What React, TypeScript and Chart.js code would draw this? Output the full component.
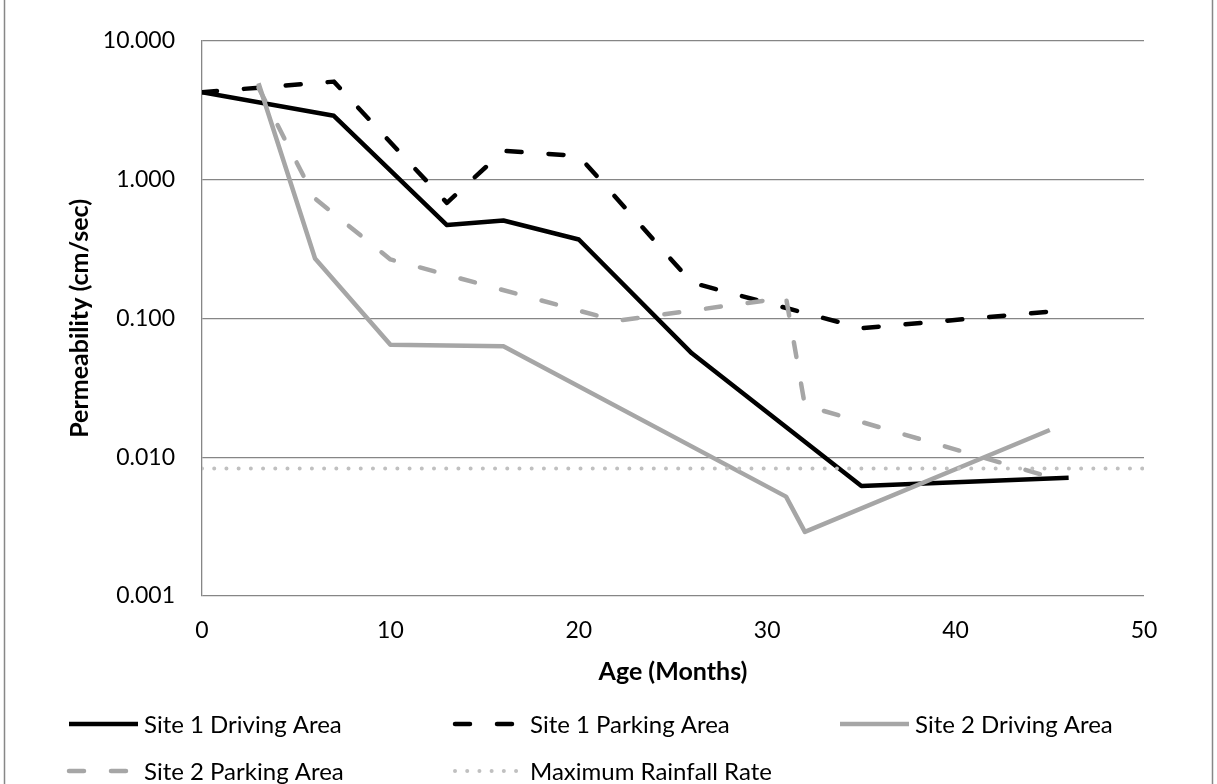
import React, { useEffect, useRef } from "react";
import { Chart, registerables } from "chart.js";

Chart.register(...registerables);

// ---- data ----
const site1DrivingMonths = [0, 7, 13, 16, 20, 26, 35, 46];
const site1DrivingValues = [4.26, 2.88, 0.47, 0.507, 0.37, 0.056, 0.0062, 0.0071];

const site1ParkingMonths = [0, 7, 13, 16, 20, 26, 35, 46];
const site1ParkingValues = [4.26, 5.08, 0.68, 1.61, 1.48, 0.181, 0.085, 0.115];

const site2DrivingMonths = [3, 6, 10, 16, 31, 32, 45];
const site2DrivingValues = [4.94, 0.27, 0.0645, 0.063, 0.0052, 0.0029, 0.0157];

const site2ParkingMonths = [3, 6, 10, 22, 31, 32, 45];
const site2ParkingValues = [4.6, 0.73, 0.266, 0.096, 0.141, 0.0236, 0.0072];

const rainfallMonths = [0, 50];
const rainfallValues = [0.0083, 0.0083];

const seriesNames = [
  "Site 1 Driving Area",
  "Site 1 Parking Area",
  "Site 2 Driving Area",
  "Site 2 Parking Area",
  "Maximum Rainfall Rate",
];

const xTickValues = [0, 10, 20, 30, 40, 50];
const yTickValues = [0.001, 0.01, 0.1, 1, 10];
const xTitle = "Age (Months)";
const yTitle = "Permeability (cm/sec)";

const FONT = "Lato";
const TICK_SIZE = 23;
const TITLE_SIZE = 25;
const LEGEND_SIZE = 24;

const toPoints = (xs: number[], ys: number[]) => xs.map((x, i) => ({ x, y: ys[i] }));

const legendPlugin = {
  id: "excelLegend",
  afterDraw(chart: any) {
    const ctx = chart.ctx;
    const cols = [69, 455, 840];
    const rows = [724, 771];
    chart.data.datasets.forEach((ds: any, i: number) => {
      const x = cols[i % 3];
      const y = rows[Math.floor(i / 3)];
      ctx.save();
      ctx.strokeStyle = ds.borderColor;
      ctx.lineWidth = ds.borderWidth;
      ctx.lineCap = ds.borderCapStyle || "butt";
      ctx.setLineDash(ds.borderDash || []);
      ctx.beginPath();
      ctx.moveTo(x, y);
      ctx.lineTo(x + (ds.borderDash && ds.borderDash[0] < 1 ? 62 : 69), y);
      ctx.stroke();
      ctx.setLineDash([]);
      ctx.fillStyle = "#000";
      ctx.font = `${LEGEND_SIZE}px ${FONT}`;
      ctx.textBaseline = "middle";
      ctx.textAlign = "left";
      ctx.fillText(ds.label, x + 75, y + 1);
      ctx.restore();
    });
  },
};

const framePlugin = {
  id: "frame",
  beforeDraw(chart: any) {
    const ctx = chart.ctx;
    ctx.save();
    ctx.fillStyle = "#fff";
    ctx.fillRect(0, 0, chart.width, chart.height);
    ctx.strokeStyle = "#878787";
    ctx.lineWidth = 1.5;
    ctx.beginPath();
    ctx.moveTo(4.5, 0);
    ctx.lineTo(4.5, chart.height);
    ctx.moveTo(1212.5, 0);
    ctx.lineTo(1212.5, chart.height);
    ctx.stroke();
    ctx.restore();
  },
};

export default function App() {
  const ref = useRef<HTMLCanvasElement | null>(null);

  useEffect(() => {
    if (!ref.current) return;
    const black = "#000000";
    const gray = "#A6A6A6";
    const dash = [15, 27];
    const chart = new Chart(ref.current, {
      type: "line",
      data: {
        datasets: [
          {
            label: seriesNames[0],
            data: toPoints(site1DrivingMonths, site1DrivingValues),
            borderColor: black,
            borderWidth: 4.5,
            borderJoinStyle: "round",
            pointRadius: 0,
            order: 5,
          },
          {
            label: seriesNames[1],
            data: toPoints(site1ParkingMonths, site1ParkingValues),
            borderColor: black,
            borderWidth: 4.5,
            borderDash: dash,
            borderCapStyle: "round",
            borderJoinStyle: "round",
            pointRadius: 0,
            order: 4,
          },
          {
            label: seriesNames[2],
            data: toPoints(site2DrivingMonths, site2DrivingValues),
            borderColor: gray,
            borderWidth: 4.5,
            borderJoinStyle: "round",
            pointRadius: 0,
            order: 3,
          },
          {
            label: seriesNames[3],
            data: toPoints(site2ParkingMonths, site2ParkingValues),
            borderColor: gray,
            borderWidth: 4.5,
            borderDash: dash,
            borderCapStyle: "round",
            borderJoinStyle: "round",
            pointRadius: 0,
            order: 2,
          },
          {
            label: seriesNames[4],
            data: toPoints(rainfallMonths, rainfallValues),
            borderColor: "#C0C0C0",
            borderWidth: 4,
            borderDash: [0.01, 12.2],
            borderCapStyle: "round",
            pointRadius: 0,
            order: 1,
          },
        ] as any,
      },
      options: {
        animation: false,
        responsive: false,
        maintainAspectRatio: false,
        devicePixelRatio: 1,
        layout: { padding: { left: 0, top: 39, right: 73, bottom: 84 } },
        plugins: {
          legend: { display: false },
          tooltip: { enabled: false },
        },
        scales: {
          x: {
            type: "linear",
            min: 0,
            max: 50,
            afterBuildTicks: (scale: any) => {
              scale.ticks = xTickValues.map((v) => ({ value: v }));
            },
            afterFit: (scale: any) => {
              scale.height = 104;
            },
            grid: { display: false, drawTicks: false },
            border: { display: false },
            ticks: {
              padding: 21,
              color: "#000",
              font: { family: FONT, size: TICK_SIZE },
              maxRotation: 0,
            },
            title: {
              display: true,
              text: xTitle,
              color: "#000",
              font: { family: FONT, size: TITLE_SIZE, weight: "bold" },
              padding: { top: 0, bottom: 13 },
            },
          },
          y: {
            type: "logarithmic",
            min: 0.001,
            max: 10,
            afterBuildTicks: (scale: any) => {
              scale.ticks = yTickValues.map((v) => ({ value: v }));
            },
            afterFit: (scale: any) => {
              scale.width = 202;
            },
            grid: { color: "#868686", lineWidth: 1.3, drawTicks: false },
            border: { display: true, color: "#868686", width: 1.3 },
            ticks: {
              padding: 27,
              color: "#000",
              font: { family: FONT, size: TICK_SIZE },
              callback: (v: any) => Number(v).toFixed(3),
            },
            title: {
              display: true,
              text: yTitle,
              color: "#000",
              font: { family: FONT, size: TITLE_SIZE, weight: "bold" },
              padding: { top: 65, bottom: 0 },
            },
          },
        },
      } as any,
      plugins: [framePlugin, legendPlugin],
    });
    return () => chart.destroy();
  }, []);

  return (
    <div style={{ position: "fixed", left: 0, top: 0, width: 1217, height: 784, background: "#fff" }}>
      <canvas ref={ref} width={1217} height={784} style={{ width: 1217, height: 784, display: "block" }} />
    </div>
  );
}
